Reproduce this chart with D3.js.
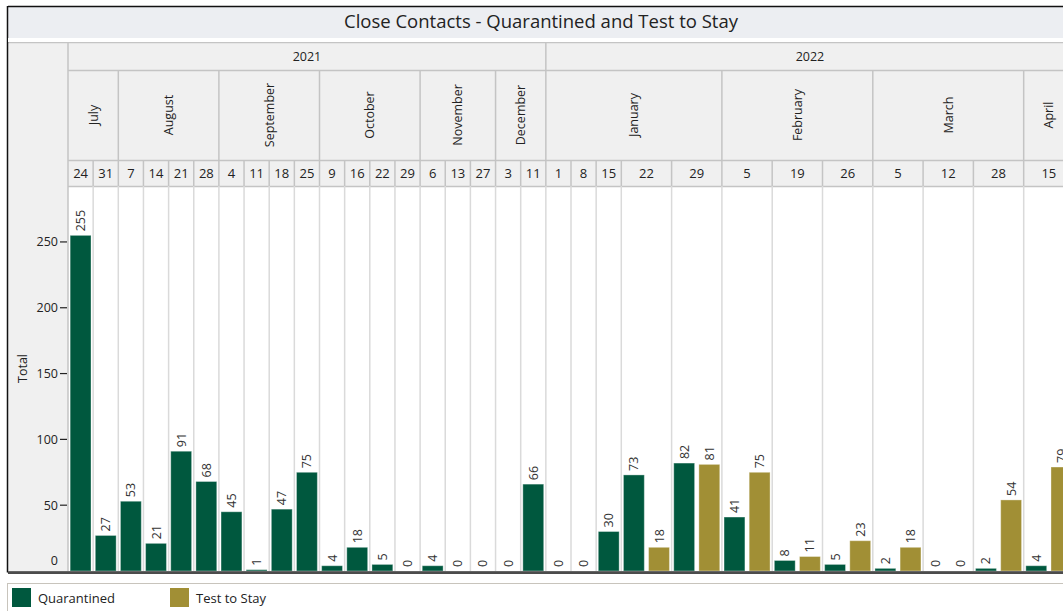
<!DOCTYPE html>
<html>
<head>
<meta charset="utf-8">
<script src="https://cdn.jsdelivr.net/npm/d3@7"></script>
<style>
  body { margin: 0; background: #fff; overflow: hidden; }
  svg { font-family: "Open Sans", "Noto Sans", sans-serif; }
</style>
</head>
<body>
<svg id="chart" width="1063" height="611"></svg>
<script>
// datos del grafico
const years = ["2021", "2021", "2021", "2021", "2021", "2021", "2021", "2021", "2021", "2021",
  "2021", "2021", "2021", "2021", "2021", "2021", "2021", "2021", "2021",
  "2022", "2022", "2022", "2022", "2022", "2022", "2022", "2022", "2022", "2022", "2022", "2022"];
const months = ["July", "July", "August", "August", "August", "August",
  "September", "September", "September", "September",
  "October", "October", "October", "October",
  "November", "November", "November", "December", "December",
  "January", "January", "January", "January", "January",
  "February", "February", "February", "March", "March", "March", "April"];
const days = ["24", "31", "7", "14", "21", "28", "4", "11", "18", "25", "9", "16", "22", "29",
  "6", "13", "27", "3", "11", "1", "8", "15", "22", "29", "5", "19", "26", "5", "12", "28", "15"];
const quarantined = [255, 27, 53, 21, 91, 68, 45, 1, 47, 75, 4, 18, 5, 0, 4, 0, 0, 0, 66,
  0, 0, 30, 73, 82, 41, 8, 5, 2, 0, 2, 4];
const testToStay = [null, null, null, null, null, null, null, null, null, null,
  null, null, null, null, null, null, null, null, null,
  null, null, null, 18, 81, 75, 11, 23, 18, 0, 54, 79];
const yTicks = [0, 50, 100, 150, 200, 250];
const seriesNames = ["Quarantined", "Test to Stay"];
const colores = ["#00583e", "#a18f35"];

const svg = d3.select("#chart");

// posiciones
const frameL = 8, frameT = 6, frameR = 1074;
const plotL = 68, plotR = 1074;
const hdrT = 42, yearB = 70, monthB = 160, plotT = 186, plotB = 571;

// cada barra ocupa un "slot"
const slots = [];
const cells = [];
days.forEach((d, i) => {
  const start = slots.length;
  slots.push({ key: i + "-q", cell: i, serie: 0, value: quarantined[i] });
  if (testToStay[i] !== null) {
    slots.push({ key: i + "-t", cell: i, serie: 1, value: testToStay[i] });
  }
  cells.push({ i: i, start: start, end: slots.length });
});

const x = d3.scaleBand()
  .domain(slots.map(s => s.key))
  .range([plotL, plotR])
  .paddingInner(0.17)
  .paddingOuter(0.085);
const unit = d3.scaleLinear().domain([0, slots.length]).range([plotL, plotR]);
const y = d3.scaleLinear().domain([0, 292.5]).range([plotB, plotT]);

// titulo
svg.append("rect").attr("x", frameL).attr("y", frameT).attr("width", frameR - frameL).attr("height", 32)
  .attr("fill", "#eceef2");
svg.append("text").attr("x", (frameL + frameR) / 2).attr("y", 28)
  .attr("text-anchor", "middle").style("font-size", "18.5px").attr("fill", "#222")
  .text("Close Contacts - Quarantined and Test to Stay");

// fondo de encabezados y eje
svg.append("rect").attr("x", frameL).attr("y", hdrT).attr("width", frameR - frameL).attr("height", plotT - hdrT)
  .attr("fill", "#f0f0f0");
svg.append("rect").attr("x", frameL).attr("y", plotT).attr("width", plotL - frameL).attr("height", plotB - plotT)
  .attr("fill", "#f0f0f0");

// agrupar meses y años
function groups(arr) {
  const out = [];
  cells.forEach((c, i) => {
    const k = arr === years ? years[i] : years[i] + months[i];
    const last = out[out.length - 1];
    if (last && last.k === k) last.end = c.end;
    else out.push({ k: k, label: arr[i], start: c.start, end: c.end });
  });
  return out;
}
const yearGroups = groups(years);
const monthGroups = groups(months);

const lineCol = "#c4c4c4";
const hdr = svg.append("g");

// lineas horizontales del encabezado
[hdrT + 0.5, yearB + 0.5, monthB + 0.5, plotT + 0.5].forEach((yy, k) => {
  hdr.append("line").attr("x1", k === 0 ? frameL : plotL).attr("x2", frameR)
    .attr("y1", yy).attr("y2", yy).attr("stroke", lineCol).attr("stroke-width", 1.5);
});
hdr.append("line").attr("x1", plotL).attr("x2", plotL).attr("y1", hdrT).attr("y2", plotB)
  .attr("stroke", lineCol).attr("stroke-width", 1.5);

// años
yearGroups.forEach(g => {
  hdr.append("line").attr("x1", unit(g.end)).attr("x2", unit(g.end)).attr("y1", hdrT).attr("y2", yearB)
    .attr("stroke", lineCol).attr("stroke-width", 1.5);
  hdr.append("text").attr("x", (unit(g.start) + unit(g.end)) / 2).attr("y", 61)
    .attr("text-anchor", "middle").style("font-size", "12.5px").attr("fill", "#222").text(g.label);
});

// meses
monthGroups.forEach(g => {
  hdr.append("line").attr("x1", unit(g.end)).attr("x2", unit(g.end)).attr("y1", yearB).attr("y2", monthB)
    .attr("stroke", lineCol).attr("stroke-width", 1.5);
  const cx = (unit(g.start) + unit(g.end)) / 2;
  hdr.append("text")
    .attr("transform", `translate(${cx + 4.5},${(yearB + monthB) / 2}) rotate(-90)`)
    .attr("text-anchor", "middle").style("font-size", "12.5px").attr("fill", "#222").text(g.label);
});

// dias y lineas verticales
cells.forEach(c => {
  const x1 = unit(c.end);
  hdr.append("line").attr("x1", x1).attr("x2", x1).attr("y1", monthB).attr("y2", plotT)
    .attr("stroke", lineCol).attr("stroke-width", 1.5);
  hdr.append("line").attr("x1", x1).attr("x2", x1).attr("y1", plotT).attr("y2", plotB)
    .attr("stroke", "#dadada").attr("stroke-width", 1.5);
  hdr.append("text").attr("x", (unit(c.start) + x1) / 2).attr("y", 178)
    .attr("text-anchor", "middle").style("font-size", "13px").attr("fill", "#222").text(days[c.i]);
});

// barras
svg.append("g").selectAll("rect")
  .data(slots)
  .enter()
  .append("rect")
  .attr("x", d => x(d.key))
  .attr("width", x.bandwidth())
  .attr("y", d => y(d.value))
  .attr("height", d => y(0) - y(d.value))
  .attr("fill", d => colores[d.serie])
  .attr("stroke", d => d.value > 0 ? "#ffffff" : "none")
  .attr("stroke-opacity", 0.35)
  .attr("stroke-width", 1);

// etiquetas de valores
svg.append("g").selectAll("text")
  .data(slots)
  .enter()
  .append("text")
  .attr("transform", d => `translate(${x(d.key) + x.bandwidth() / 2 + 4.5},${y(d.value) - 4}) rotate(-90)`)
  .style("font-size", "12.5px")
  .attr("fill", "#333")
  .text(d => d.value);

// eje y
const yAxis = svg.append("g");
yTicks.forEach(t => {
  if (t > 0) {
    yAxis.append("line").attr("x1", 60).attr("x2", 67).attr("y1", y(t)).attr("y2", y(t))
      .attr("stroke", "#222").attr("stroke-width", 1.2);
  }
  yAxis.append("text").attr("x", 58).attr("y", t > 0 ? y(t) + 4.5 : y(t) - 6)
    .attr("text-anchor", "end").style("font-size", "12.5px").attr("fill", "#222").text(t);
});
svg.append("text").attr("transform", `translate(27,${(plotT + plotB) / 2 - 10}) rotate(-90)`)
  .attr("text-anchor", "middle").style("font-size", "12.5px").attr("fill", "#222").text("Total");

// marco
svg.append("line").attr("x1", frameL).attr("x2", frameR).attr("y1", frameT + 0.5).attr("y2", frameT + 0.5)
  .attr("stroke", "#111").attr("stroke-width", 1.5);
svg.append("line").attr("x1", frameL - 0.5).attr("x2", frameL - 0.5).attr("y1", frameT).attr("y2", plotB + 1.5)
  .attr("stroke", "#111").attr("stroke-width", 1.5);
svg.append("line").attr("x1", frameL).attr("x2", frameR).attr("y1", plotB + 0.5).attr("y2", plotB + 0.5)
  .attr("stroke", "#666").attr("stroke-width", 1);
svg.append("line").attr("x1", frameL).attr("x2", frameR).attr("y1", plotB + 2).attr("y2", plotB + 2)
  .attr("stroke", "#111").attr("stroke-width", 1.5);
svg.append("rect").attr("x", frameL).attr("y", 38).attr("width", frameR - frameL).attr("height", 4)
  .attr("fill", "#fff");

// leyenda
const legend = svg.append("g");
legend.append("rect").attr("x", 7.5).attr("y", 583.5).attr("width", 1070).attr("height", 40)
  .attr("fill", "none").attr("stroke", "#c8c4bc").attr("stroke-width", 1);
const legendX = [12, 170];
seriesNames.forEach((n, i) => {
  legend.append("rect").attr("x", legendX[i]).attr("y", 588).attr("width", 19).attr("height", 19)
    .attr("fill", colores[i]);
  legend.append("text").attr("x", legendX[i] + 26).attr("y", 603)
    .style("font-size", "13px").attr("fill", "#222").text(n);
});
</script>
</body>
</html>
